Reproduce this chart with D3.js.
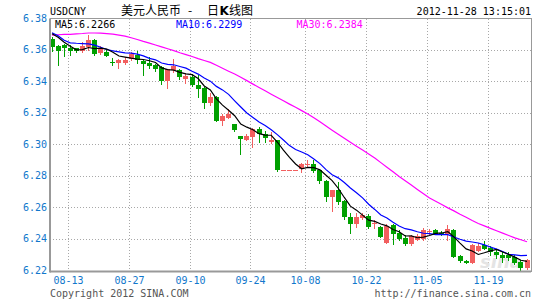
<!DOCTYPE html>
<html lang="zh">
<head>
<meta charset="UTF-8">
<title>USDCNY 日K线图</title>
<script src="https://d3js.org/d3.v7.min.js"></script>
<style>
  body { margin: 0; background: #fff; }
  svg { display: block; }
  .mono { font-family: "DejaVu Sans Mono", "Liberation Mono", monospace; font-size: 10px; }
  .cjk { font-family: "Noto Sans CJK SC", sans-serif; font-size: 12px; }
</style>
</head>
<body>
<svg id="chart" width="545" height="300"></svg>
<script>
// trading days shown on the chart (MM-DD, 2012)
const dates = [
  "08-08","08-09","08-10",
  "08-13","08-14","08-15","08-16","08-17",
  "08-20","08-21","08-22","08-23","08-24",
  "08-27","08-28","08-29","08-30","08-31",
  "09-03","09-04","09-05","09-06","09-07",
  "09-10","09-11","09-12","09-13","09-14",
  "09-17","09-18","09-19","09-20","09-21",
  "09-24","09-25","09-26","09-27","09-28",
  "09-29","10-01","10-02","10-03",
  "10-08","10-09","10-10","10-11","10-12",
  "10-15","10-16","10-17","10-18","10-19",
  "10-22","10-23","10-24","10-25","10-26",
  "10-29","10-30","10-31","11-01","11-02",
  "11-05","11-06","11-07","11-08","11-09",
  "11-12","11-13","11-14","11-15","11-16",
  "11-19","11-20","11-21","11-22","11-23",
  "11-26","11-27"
];

const open = [
  6.3667, 6.3624, 6.3629, 6.3614, 6.3608, 6.3592, 6.3619, 6.3660, 6.3581, 6.3587,
  6.3525, 6.3518, 6.3518, 6.3540, 6.3568, 6.3529, 6.3518, 6.3502, 6.3491, 6.3402,
  6.3470, 6.3470, 6.3413, 6.3427, 6.3379, 6.3358, 6.3264, 6.3301, 6.3148, 6.3170,
  6.3127, 6.3051, 6.3030, 6.3047, 6.3096, 6.3064, 6.3015, 6.3026, 6.2837, 6.2837,
  6.2837, 6.2846, 6.2875, 6.2874, 6.2840, 6.2768, 6.2666, 6.2709, 6.2639, 6.2539,
  6.2493, 6.2533, 6.2544, 6.2496, 6.2476, 6.2377, 6.2486, 6.2438, 6.2406, 6.2366,
  6.2396, 6.2402, 6.2448, 6.2455, 6.2440, 6.2429, 6.2455, 6.2290, 6.2260, 6.2247,
  6.2323, 6.2360, 6.2345, 6.2317, 6.2301, 6.2296, 6.2285, 6.2254, 6.2218
];
const high = [
  6.3679, 6.3629, 6.3639, 6.3629, 6.3613, 6.3648, 6.3692, 6.3667, 6.3622, 6.3603,
  6.3546, 6.3543, 6.3552, 6.3584, 6.3594, 6.3533, 6.3552, 6.3511, 6.3495, 6.3481,
  6.3544, 6.3481, 6.3449, 6.3449, 6.3438, 6.3362, 6.3327, 6.3305, 6.3191, 6.3227,
  6.3130, 6.3051, 6.3064, 6.3104, 6.3110, 6.3083, 6.3078, 6.3029, 6.2837, 6.2837,
  6.2837, 6.2882, 6.2899, 6.2899, 6.2842, 6.2772, 6.2712, 6.2761, 6.2645, 6.2567,
  6.2565, 6.2563, 6.2556, 6.2521, 6.2480, 6.2493, 6.2493, 6.2455, 6.2423, 6.2423,
  6.2429, 6.2469, 6.2466, 6.2466, 6.2448, 6.2486, 6.2461, 6.2296, 6.2264, 6.2366,
  6.2377, 6.2385, 6.2355, 6.2328, 6.2317, 6.2317, 6.2296, 6.2264, 6.2275
];
const low = [
  6.3592, 6.3505, 6.3561, 6.3568, 6.3584, 6.3586, 6.3597, 6.3568, 6.3575, 6.3559,
  6.3502, 6.3483, 6.3511, 6.3533, 6.3514, 6.3438, 6.3483, 6.3464, 6.3381, 6.3358,
  6.3459, 6.3417, 6.3392, 6.3370, 6.3301, 6.3231, 6.3251, 6.3146, 6.3121, 6.3167,
  6.3083, 6.2937, 6.3026, 6.2983, 6.3015, 6.3015, 6.3011, 6.2829, 6.2837, 6.2837,
  6.2837, 6.2823, 6.2861, 6.2825, 6.2755, 6.2639, 6.2575, 6.2624, 6.2529, 6.2440,
  6.2476, 6.2529, 6.2467, 6.2472, 6.2410, 6.2377, 6.2370, 6.2396, 6.2360, 6.2363,
  6.2391, 6.2396, 6.2434, 6.2429, 6.2426, 6.2391, 6.2283, 6.2254, 6.2247, 6.2245,
  6.2321, 6.2334, 6.2301, 6.2277, 6.2254, 6.2264, 6.2243, 6.2195, 6.2212
];
const close = [
  6.3616, 6.3592, 6.3608, 6.3590, 6.3590, 6.3622, 6.3660, 6.3571, 6.3606, 6.3562,
  6.3523, 6.3538, 6.3538, 6.3571, 6.3533, 6.3511, 6.3498, 6.3481, 6.3402, 6.3476,
  6.3497, 6.3427, 6.3434, 6.3375, 6.3354, 6.3262, 6.3301, 6.3148, 6.3180, 6.3191,
  6.3089, 6.3034, 6.3051, 6.3096, 6.3068, 6.3043, 6.3030, 6.2837, 6.2837, 6.2837,
  6.2837, 6.2878, 6.2878, 6.2831, 6.2768, 6.2666, 6.2709, 6.2634, 6.2539, 6.2493,
  6.2539, 6.2550, 6.2476, 6.2499, 6.2412, 6.2480, 6.2434, 6.2402, 6.2366, 6.2417,
  6.2420, 6.2455, 6.2452, 6.2434, 6.2429, 6.2464, 6.2285, 6.2258, 6.2250, 6.2360,
  6.2355, 6.2339, 6.2317, 6.2296, 6.2279, 6.2281, 6.2250, 6.2218, 6.2264
];

// 30-day average (needs closes from before the window)
const ma30 = [
  6.3693, 6.3695, 6.3697, 6.3698, 6.3701, 6.3703, 6.3706, 6.3706, 6.3705, 6.3702,
  6.3699, 6.3693, 6.3686, 6.3676, 6.3665, 6.3653, 6.3642, 6.3630, 6.3618, 6.3606,
  6.3594, 6.3581, 6.3569, 6.3557, 6.3544, 6.3532, 6.3520, 6.3502, 6.3483, 6.3464,
  6.3446, 6.3425, 6.3404, 6.3382, 6.3361, 6.3340, 6.3318, 6.3297, 6.3276, 6.3255,
  6.3235, 6.3214, 6.3193, 6.3169, 6.3143, 6.3116, 6.3090, 6.3064, 6.3038, 6.3013,
  6.2988, 6.2964, 6.2939, 6.2913, 6.2884, 6.2855, 6.2826, 6.2796, 6.2769, 6.2742,
  6.2714, 6.2687, 6.2660, 6.2639, 6.2618, 6.2597, 6.2578, 6.2557, 6.2538, 6.2517,
  6.2498, 6.2483, 6.2467, 6.2452, 6.2437, 6.2422, 6.2407, 6.2395, 6.2382
];
// first MA5 / MA10 points (window starts before 08-08)
const ma5Lead = [6.3702, 6.3679, 6.3648, 6.3622];
const ma10Lead = [6.3708, 6.3689, 6.3660, 6.3644, 6.3641, 6.3639, 6.3637, 6.3629, 6.3616];

const maLabels = ["MA5:6.2266", "MA10:6.2299", "MA30:6.2384"];
const maColors = ["#000000", "#0000ff", "#ff00ff"];
const yTicks = [6.22, 6.24, 6.26, 6.28, 6.30, 6.32, 6.34, 6.36, 6.38];
const xTicks = ["08-13", "08-27", "09-10", "09-24", "10-08", "10-22", "11-05", "11-19"];

const n = dates.length;
const plot = { left: 50, right: 531, top: 18.5, bottom: 271.5 };
const up = "#f25f5f", down = "#00a000", axisBlue = "#1177cc";

const svg = d3.select("#chart");

const x = d3.scaleBand().domain(dates).range([49.5, 529.5]).paddingInner(0.18);
const y = d3.scaleLinear().domain([6.22, 6.38]).range([270.5, 18.2]);
const bx = d => Math.round(x(d));
const bw = 5;

svg.append("defs").append("clipPath").attr("id", "clip")
  .append("rect")
  .attr("x", plot.left).attr("y", plot.top)
  .attr("width", plot.right - plot.left).attr("height", plot.bottom - plot.top);

// grid
const grid = svg.append("g").attr("stroke", "#a8a8a8").attr("stroke-dasharray", "1,2")
  .attr("shape-rendering", "crispEdges");
grid.selectAll("line.h").data(yTicks.slice(1, -1)).join("line")
  .attr("x1", plot.left).attr("x2", plot.right)
  .attr("y1", d => Math.round(y(d)) + 0.5).attr("y2", d => Math.round(y(d)) + 0.5);
grid.selectAll("line.v").data(xTicks).join("line")
  .attr("y1", plot.top).attr("y2", plot.bottom)
  .attr("x1", d => bx(d) + 0.5).attr("x2", d => bx(d) + 0.5);

// watermark
svg.append("text").attr("x", 480).attr("y", 268)
  .attr("font-family", "DejaVu Sans, sans-serif").attr("font-size", 18)
  .attr("font-weight", "bold").attr("font-style", "italic")
  .attr("fill", "#e4e4e4").text("sina");

const body = svg.append("g").attr("clip-path", "url(#clip)");
const col = i => close[i] >= open[i] ? up : down;
const idx = d3.range(n);

body.append("g").attr("shape-rendering", "crispEdges")
  .selectAll("line").data(idx).join("line")
  .attr("x1", i => bx(dates[i]) + 2.5).attr("x2", i => bx(dates[i]) + 2.5)
  .attr("y1", i => Math.round(y(high[i]))).attr("y2", i => Math.round(y(low[i])) + 1)
  .attr("stroke", col);

body.append("g").attr("shape-rendering", "crispEdges")
  .selectAll("rect").data(idx).join("rect")
  .attr("x", i => bx(dates[i])).attr("width", bw)
  .attr("y", i => Math.round(y(Math.max(open[i], close[i]))))
  .attr("height", i => Math.max(1, Math.round(y(Math.min(open[i], close[i]))) - Math.round(y(Math.max(open[i], close[i])))))
  .attr("fill", col);

// moving averages
const ma5 = idx.map(i => i < 4 ? ma5Lead[i] : d3.mean(close.slice(i - 4, i + 1)));
const ma10 = idx.map(i => i < 9 ? ma10Lead[i] : d3.mean(close.slice(i - 9, i + 1)));
const line = d3.line().x((v, i) => x(dates[i]) + x.bandwidth() / 2).y(v => y(v));
[ma30, ma10, ma5].forEach((s, k) => {
  body.append("path").datum(s).attr("d", line)
    .attr("fill", "none").attr("stroke", maColors[2 - k]).attr("stroke-width", 1.2);
});

// frame
svg.append("rect").attr("x", plot.left).attr("y", plot.top)
  .attr("width", plot.right - plot.left).attr("height", plot.bottom - plot.top)
  .attr("fill", "none").attr("stroke", "#999").attr("shape-rendering", "crispEdges");
svg.append("line").attr("x1", plot.left).attr("x2", plot.left)
  .attr("y1", plot.top).attr("y2", plot.bottom + 1)
  .attr("stroke", "#999").attr("stroke-width", 2);
svg.append("line").attr("x1", plot.left).attr("x2", plot.right)
  .attr("y1", plot.bottom).attr("y2", plot.bottom)
  .attr("stroke", "#999").attr("stroke-width", 2);

// axis labels
svg.append("g").attr("class", "mono").attr("fill", axisBlue).attr("text-anchor", "end")
  .selectAll("text").data(yTicks).join("text")
  .attr("x", 47).attr("y", d => y(d)).attr("dy", "0.35em")
  .text(d => d.toFixed(2));
svg.append("g").attr("class", "mono").attr("fill", axisBlue).attr("text-anchor", "middle")
  .selectAll("text").data(xTicks).join("text")
  .attr("x", d => bx(d) + 0.5).attr("y", 284)
  .text(d => d);

// MA legend inside the plot
const legX = [55, 176, 296.5];
svg.append("g").attr("class", "mono")
  .selectAll("text").data(maLabels).join("text")
  .attr("x", (d, i) => legX[i]).attr("y", 28)
  .attr("fill", (d, i) => maColors[i]).text(d => d);

// header
svg.append("text").attr("class", "mono").attr("x", 50).attr("y", 15).text("USDCNY");
const title = svg.append("text").attr("class", "cjk").attr("y", 15);
title.append("tspan").attr("x", 121).text("美元人民币");
title.append("tspan").attr("x", 188).text("-");
title.append("tspan").attr("x", 207).text("日");
title.append("tspan").attr("x", 219.5).attr("font-weight", "bold").attr("font-family", "DejaVu Sans, sans-serif").text("K");
title.append("tspan").attr("x", 229).text("线图");
svg.append("text").attr("class", "mono").attr("x", 531).attr("y", 15)
  .attr("text-anchor", "end").text("2012-11-28 13:15:01");

// footer
svg.append("text").attr("class", "mono").attr("x", 50).attr("y", 297)
  .attr("fill", "#555").text("Copyright 2012 SINA.COM");
svg.append("text").attr("class", "mono").attr("x", 531).attr("y", 297)
  .attr("fill", "#555").attr("text-anchor", "end").text("http://finance.sina.com.cn");
</script>
</body>
</html>
